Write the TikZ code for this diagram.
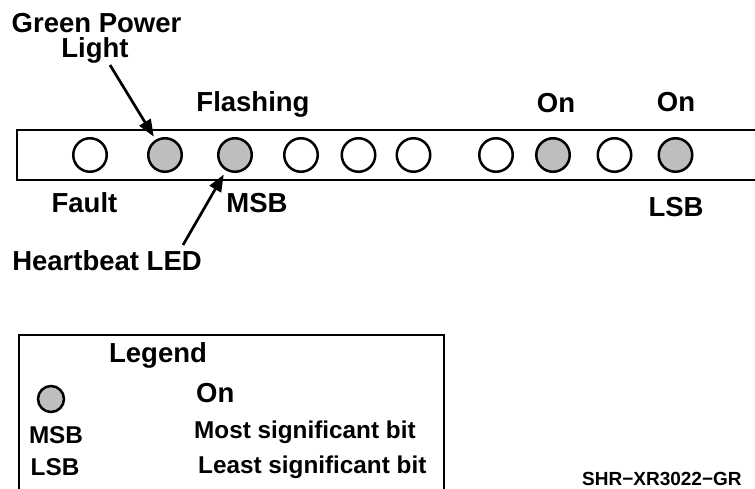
\documentclass[tikz,border=0pt]{standalone}
\usepackage{fontspec}
\setmainfont{Liberation Sans}
\usetikzlibrary{arrows.meta}
\definecolor{ledgray}{RGB}{190,190,190}
\tikzset{
  led/.style={circle, draw=black, line width=2.5pt, minimum size=33.5pt, inner sep=0pt, fill=white},
  ledon/.style={led, fill=ledgray},
  lbl/.style={font=\bfseries\fontsize{27.5}{30}\selectfont, inner sep=0pt, anchor=base},
  lgs/.style={font=\bfseries\fontsize{24.3}{27}\selectfont, inner sep=0pt, anchor=base west},
  frame/.style={line width=2.9pt, line join=miter},
  arr/.style={line width=2.7pt, -{Triangle[length=17pt,width=13pt]}},
}
\begin{document}
\begin{tikzpicture}[x=1pt,y=-1pt]
\clip (0,0) rectangle (755,489);
% main LED bar (open on the right, runs off the page)
\draw[frame] (770,130) -- (17,130) -- (17,180) -- (770,180);
% LEDs
\node[led]   (c1)  at (90,155)  {};
\node[ledon] (c2)  at (165,155) {};
\node[ledon] (c3)  at (235,155) {};
\node[led]   (c4)  at (301,155) {};
\node[led]   (c5)  at (358.5,155) {};
\node[led]   (c6)  at (413.5,155) {};
\node[led]   (c7)  at (496,155) {};
\node[ledon] (c8)  at (553,155) {};
\node[led]   (c9)  at (614.5,155) {};
\node[ledon] (c10) at (675.5,155) {};
% labels
\node[lbl] (gp)    at (96.5,33)  {Green Power};
\node[lbl] (light) at (95,58)    {Light};
\node[lbl] (flash) at (253,112)  {Flashing};
\node[lbl] (on1)   at (556,113)  {On};
\node[lbl] (on2)   at (676,112)  {On};
\node[lbl] (fault) at (84.5,213) {Fault};
\node[lbl] (msb)   at (257,213)  {MSB};
\node[lbl] (lsb)   at (676,217)  {LSB};
\node[lbl] (hb)    at (107,270)  {Heartbeat LED};
% arrows
\coordinate (gptail) at (110,65);
\coordinate (hbtail) at (183,245);
\draw[arr, shorten >=3.5pt] (gptail) -- (c2);
\draw[arr, shorten >=4.5pt] (hbtail) -- (c3);
% legend box (runs off the bottom)
\draw[frame] (19,500) -- (19,335) -- (444,335) -- (444,500);
\node[lbl] (lgtitle) at (158,362) {Legend};
\node[ledon, minimum size=26pt] (lgc) at (51,399) {};
\node[lbl, anchor=base west] (lgon) at (196,402) {On};
\node[lgs, anchor=base] (lgmsb) at (56,443) {MSB};
\node[lgs, anchor=base] (lglsb) at (55,475) {LSB};
\node[lgs] (lgmost)  at (194,438) {Most significant bit};
\node[lgs] (lgleast) at (198,473) {Least significant bit};
% figure id
\node[font=\bfseries\fontsize{19}{22}\selectfont, inner sep=0pt, anchor=base west] (fid) at (582,485) {SHR−XR3022−GR};
\end{tikzpicture}
\end{document}
